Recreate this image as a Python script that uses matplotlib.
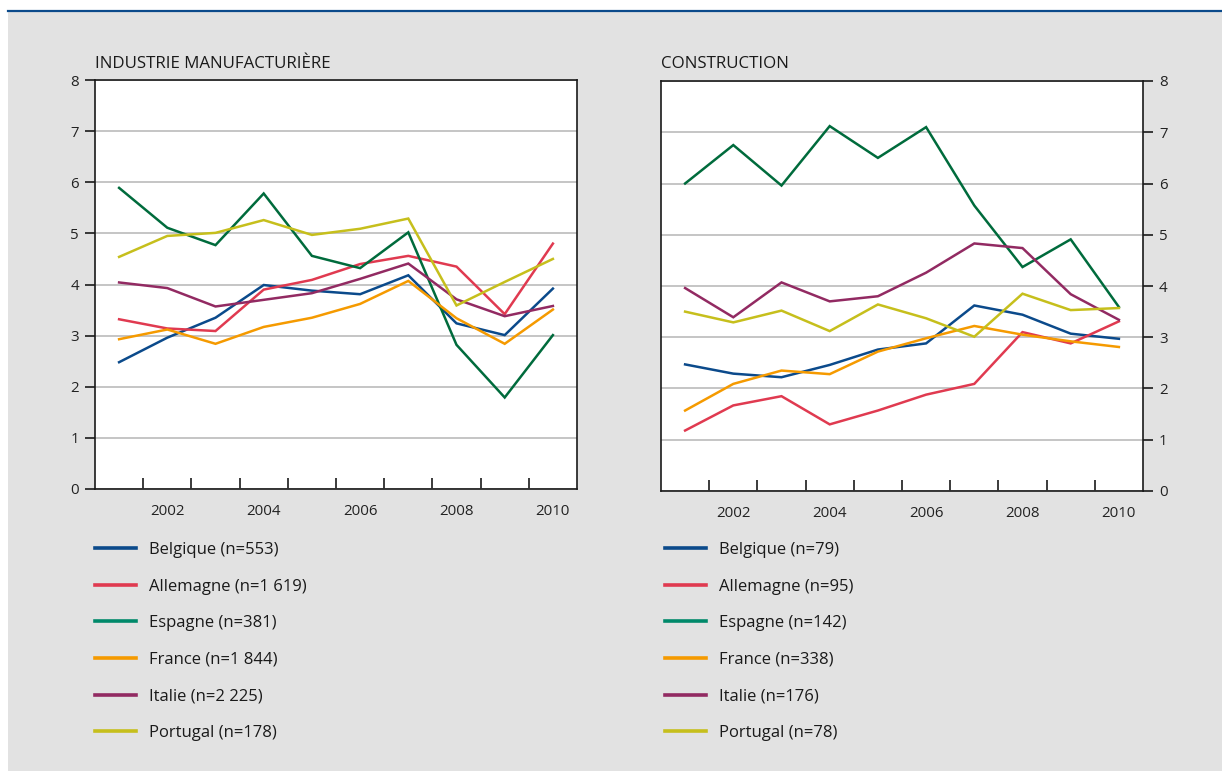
import matplotlib
matplotlib.use("Agg")
import matplotlib.pyplot as plt
from matplotlib.lines import Line2D
from matplotlib.patches import Rectangle
from matplotlib.ticker import FixedLocator

plt.rcParams['font.family'] = ['Open Sans', 'DejaVu Sans']

years = [2001, 2002, 2003, 2004, 2005, 2006, 2007, 2008, 2009, 2010]
countries = ["Belgique", "Allemagne", "Espagne", "France", "Italie", "Portugal"]
line_colors = ["#0b4a8b", "#e03a50", "#006b3c", "#f59a00", "#922a62", "#c6bf1c"]
legend_colors = ["#0b4a8b", "#e03a50", "#00896a", "#f59a00", "#922a62", "#c6bf1c"]

# Industrie manufacturière
manuf_n = ["553", "1 619", "381", "1 844", "2 225", "178"]
manuf_belgique = [2.48, 2.96, 3.35, 3.99, 3.88, 3.81, 4.18, 3.24, 3.01, 3.92]
manuf_allemagne = [3.32, 3.14, 3.09, 3.90, 4.09, 4.40, 4.56, 4.35, 3.42, 4.80]
manuf_espagne = [5.89, 5.11, 4.77, 5.78, 4.56, 4.32, 5.02, 2.82, 1.79, 3.01]
manuf_france = [2.93, 3.12, 2.84, 3.17, 3.35, 3.62, 4.07, 3.34, 2.84, 3.51]
manuf_italie = [4.04, 3.93, 3.57, 3.70, 3.83, 4.11, 4.41, 3.71, 3.38, 3.58]
manuf_portugal = [4.54, 4.95, 5.01, 5.26, 4.97, 5.09, 5.29, 3.59, 4.05, 4.50]

# Construction
constr_n = ["79", "95", "142", "338", "176", "78"]
constr_belgique = [2.47, 2.29, 2.22, 2.46, 2.76, 2.88, 3.62, 3.44, 3.07, 2.97]
constr_allemagne = [1.18, 1.67, 1.85, 1.30, 1.57, 1.88, 2.09, 3.10, 2.88, 3.31]
constr_espagne = [6.00, 6.75, 5.96, 7.12, 6.50, 7.10, 5.57, 4.37, 4.91, 3.59]
constr_france = [1.57, 2.09, 2.35, 2.28, 2.72, 2.98, 3.22, 3.05, 2.92, 2.81]
constr_italie = [3.96, 3.39, 4.07, 3.70, 3.80, 4.26, 4.83, 4.74, 3.84, 3.34]
constr_portugal = [3.50, 3.29, 3.52, 3.12, 3.64, 3.37, 3.01, 3.85, 3.53, 3.57]

manuf_series = [manuf_belgique, manuf_allemagne, manuf_espagne,
                manuf_france, manuf_italie, manuf_portugal]
constr_series = [constr_belgique, constr_allemagne, constr_espagne,
                 constr_france, constr_italie, constr_portugal]

W, H = 1222, 771
fig = plt.figure(figsize=(W / 100, H / 100), dpi=100, facecolor="white")

# grey panel and blue rule on top
fig.add_artist(Rectangle((8 / W, 0), 1, 1 - 12 / H, transform=fig.transFigure,
                         facecolor="#e2e2e2", edgecolor="none", zorder=-10))
fig.add_artist(Line2D([8 / W, 1], [1 - 11 / H, 1 - 11 / H], transform=fig.transFigure,
                      color="#0b4a8b", lw=1.6))


def draw_panel(rect, title, series, ns, side, legend_x):
    ax = fig.add_axes(rect)
    ax.set_facecolor("white")
    for vals, c in zip(series, line_colors):
        ax.plot(years, vals, color=c, lw=1.8, solid_joinstyle="miter", zorder=3)
    ax.set_xlim(2000.5, 2010.5)
    ax.set_ylim(0, 8)
    ax.set_yticks(range(0, 9))
    ax.yaxis.grid(True, color="#b5b5b5", lw=1.1)
    ax.set_axisbelow(True)
    for s in ax.spines.values():
        s.set_linewidth(1.2)
        s.set_color("#1a1a1a")
    ax.set_xticks([2002, 2004, 2006, 2008, 2010])
    ax.xaxis.set_minor_locator(FixedLocator([y + 0.5 for y in years[:-1]]))
    ax.tick_params(axis="x", which="major", length=0, pad=11, labelsize=10.8,
                   labelcolor="#222222")
    ax.tick_params(axis="x", which="minor", direction="in", length=8, width=1.2,
                   color="#1a1a1a")
    if side == "right":
        ax.yaxis.tick_right()
    ax.tick_params(axis="y", direction="out", length=7.5, width=1.2, pad=4,
                   labelsize=10.8, labelcolor="#222222", color="#1a1a1a")
    ax.set_title(title, loc="left", fontsize=12.2, pad=9, color="#1a1a1a")

    handles = [Line2D([], [], color=c, lw=2.6) for c in legend_colors]
    labels = [f"{name} (n={n})" for name, n in zip(countries, ns)]
    fig.legend(handles, labels, loc="upper left",
               bbox_to_anchor=(legend_x / W, 1 - 542 / H),
               frameon=False, fontsize=12, borderpad=0, borderaxespad=0,
               handlelength=2.45, handletextpad=0.78, labelspacing=1.24,
               labelcolor="#1a1a1a")
    return ax


draw_panel([95 / W, 1 - 489 / H, 482 / W, 409 / H], "INDUSTRIE MANUFACTURIÈRE",
           manuf_series, manuf_n, "left", 95)
draw_panel([661 / W, 1 - 491 / H, 482 / W, 410 / H], "CONSTRUCTION",
           constr_series, constr_n, "right", 665)

fig.savefig("out.png", dpi=100, facecolor=fig.get_facecolor())
